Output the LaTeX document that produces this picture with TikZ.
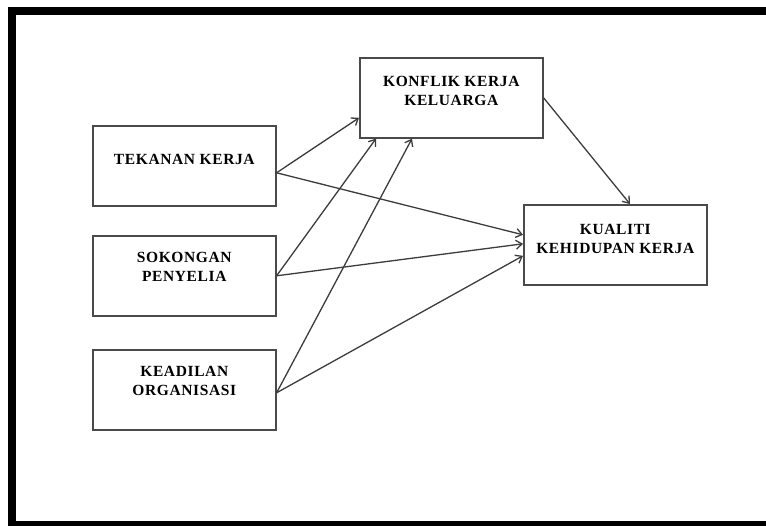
\documentclass[tikz,border=0pt]{standalone}
\usepackage{fontspec}
\setmainfont{Liberation Serif}
\usepackage{tikz}
\usetikzlibrary{arrows.meta,positioning}
\definecolor{boxline}{HTML}{4A4A4A}
\definecolor{linkline}{HTML}{3C3C3C}
\newcommand{\boxlabel}[2]{\parbox[t][80pt][t]{183pt}{\centering\vspace*{#1}#2}}

\begin{document}
\begin{tikzpicture}[x=1pt,y=-1pt,
factor/.style={draw=boxline,line width=1.6pt,inner sep=0pt,anchor=north west,
  font=\fontsize{15.5}{19.5}\selectfont\bfseries\addfontfeature{LetterSpace=4}},
arrow/.style={-{Straight Barb[length=6pt,width=9pt]},line width=1.3pt,draw=linkline}]
\useasboundingbox (0,0) rectangle (766,525);
\clip (0,0) rectangle (766,525);
% outer frame
\draw[line width=8pt] (12,11) rectangle (775,525);
% factors
\node[factor] (konflik) at (359,57) {\boxlabel{18pt}{KONFLIK KERJA\\KELUARGA}};
\node[factor] (tekanan) at (92,125) {\boxlabel{28pt}{TEKANAN KERJA}};
\node[factor] (sokongan) at (92,235) {\boxlabel{16pt}{SOKONGAN\\PENYELIA}};
\node[factor] (keadilan) at (92,349) {\boxlabel{16pt}{KEADILAN\\ORGANISASI}};
\node[factor] (kualiti) at (523,204) {\boxlabel{19pt}{KUALITI\\KEHIDUPAN KERJA}};
% links
\draw[arrow] ([yshift=-7pt]tekanan.east)--([yshift=-20pt]konflik.west);
\draw[arrow] ([yshift=-7pt]tekanan.east)--([yshift=10pt]kualiti.west);
\draw[arrow] (sokongan.east)--([xshift=17pt]konflik.south west);
\draw[arrow] (sokongan.east)--([yshift=1pt]kualiti.west);
\draw[arrow] ([yshift=-3pt]keadilan.east)--([xshift=53pt]konflik.south west);
\draw[arrow] ([yshift=-3pt]keadilan.east)--([yshift=-11pt]kualiti.west);
\draw[arrow] (konflik.east)--([xshift=107pt]kualiti.north west);
\end{tikzpicture}
\end{document}
